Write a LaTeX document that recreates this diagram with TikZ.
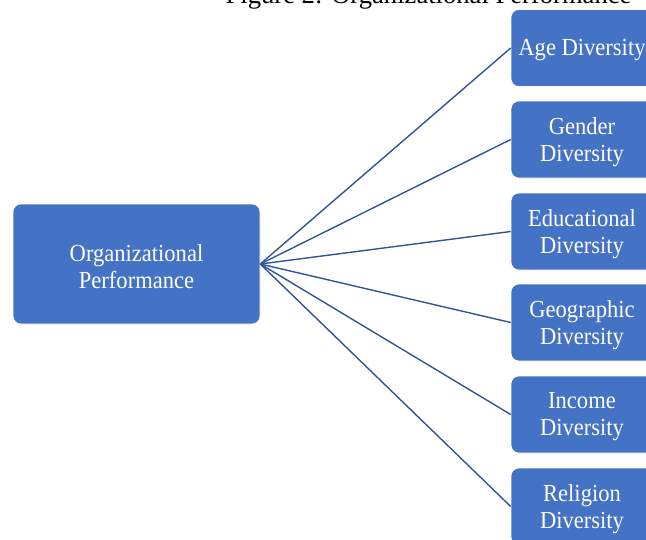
\documentclass[tikz,border=0pt]{standalone}
\usepackage{fontspec}
\setmainfont{Liberation Serif}
\newfontfamily\boxfont[FakeStretch=0.92]{Liberation Serif}
\definecolor{boxblue}{HTML}{4472C4}
\definecolor{lineblue}{HTML}{2F5597}
\begin{document}
\begin{tikzpicture}[x=1pt,y=-1pt,
  boxstyle/.style={fill=boxblue, draw=white, line width=0.6pt, rounded corners=8pt,
    text=white, align=center, font=\boxfont\fontsize{24.5}{27}\selectfont, inner sep=0pt},
  rbox/.style={boxstyle, minimum width=144pt, minimum height=77pt},
  link/.style={draw=lineblue, line width=1.4pt}]
\useasboundingbox (0,0) rectangle (646,539);
\clip (0,0) rectangle (646,539);
\node[anchor=base, font=\fontsize{26.6}{30}\selectfont] (title) at (428.5,3) {Figure 2: Organizational Performance};
\node[boxstyle, minimum width=247pt, minimum height=120pt] (op) at (136.5,264) {};
\node[text=white, align=center, font=\boxfont\fontsize{24.5}{27}\selectfont] (opt) at (136.5,266.5) {Organizational\\Performance};
\foreach \n/\y/\txt in {age/48/{Age Diversity},gen/139.5/{Gender\\Diversity},edu/231.5/{Educational\\Diversity},geo/322.5/{Geographic\\Diversity},inc/414.5/{Income\\Diversity},rel/506.5/{Religion\\Diversity}}{
  \node[rbox] (\n) at (583,\y) {};
  \node[text=white, align=center, font=\boxfont\fontsize{24.5}{27}\selectfont] (\n t) at (582,\y+2.5) {\txt};
}
\foreach \t in {age,gen,edu,geo,inc,rel}
  \draw[link] (op.east) -- (\t.west);
\end{tikzpicture}
\end{document}
